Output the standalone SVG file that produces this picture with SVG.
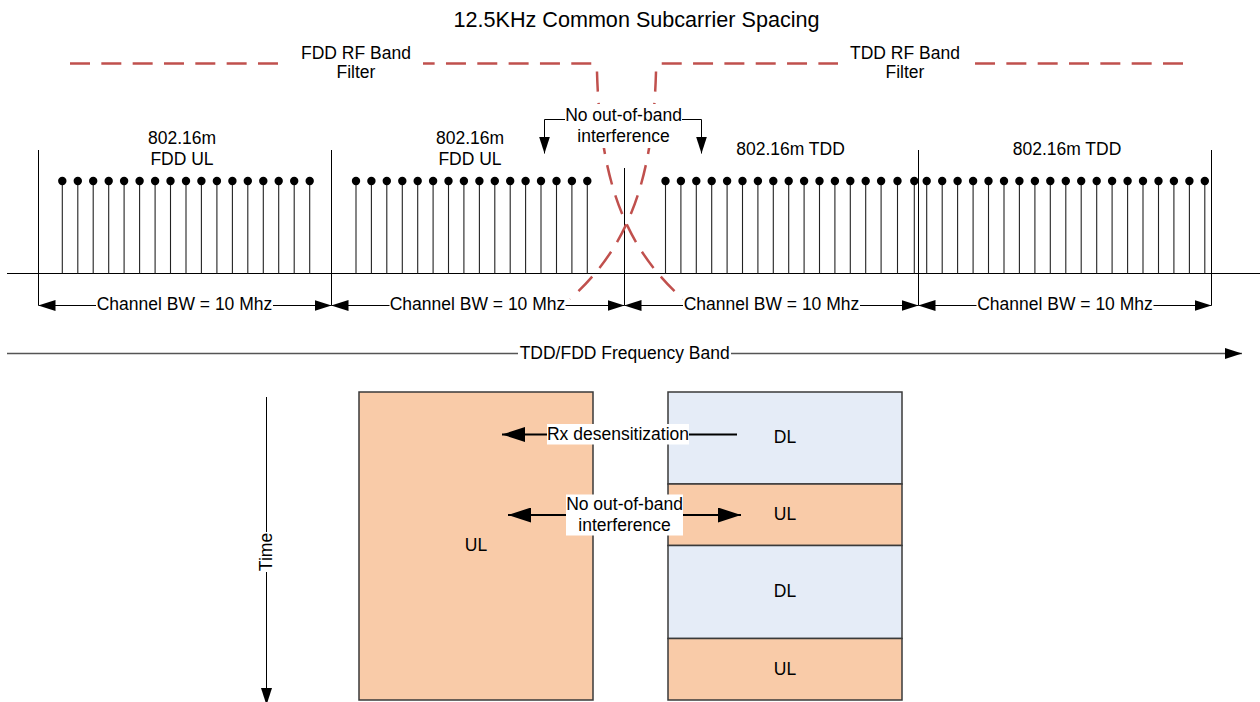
<svg xmlns="http://www.w3.org/2000/svg" width="1260" height="702" viewBox="0 0 1260 702">
<style>
text { font-family: "Liberation Sans", Arial, sans-serif; font-size: 17.5px; fill: #000; text-anchor: middle; }
.title { font-size: 21.6px; }
.ln { stroke: #000; stroke-width: 1; fill: none; }
.filter { stroke: #C0504D; stroke-width: 2.5; fill: none; stroke-dasharray: 20 11.33; }
.bg { fill: #fff; }
.ul { fill: #F9CBA8; stroke: #3a3a3a; stroke-width: 1.5; }
.dl { fill: #E5ECF7; stroke: #3a3a3a; stroke-width: 1.5; }
.thick { stroke: #000; stroke-width: 2; fill: none; }
.band { stroke: #555; stroke-width: 1.5; fill: none; }
</style>
<defs>
<marker id="ah" markerUnits="userSpaceOnUse" markerWidth="17" markerHeight="11" refX="17" refY="5.5" orient="auto-start-reverse" viewBox="0 0 17 11"><path d="M0,0 L17,5.5 L0,11 z" fill="#000"/></marker>
<marker id="ahL" markerUnits="userSpaceOnUse" markerWidth="23" markerHeight="15" refX="23" refY="7.5" orient="auto-start-reverse" viewBox="0 0 23 15"><path d="M0,0 L23,7.5 L0,15 z" fill="#000"/></marker>
<g id="sc"><line x1="0" y1="181" x2="0" y2="273.5" stroke="#222" stroke-width="1.1"/><circle cx="0" cy="181" r="4.2" fill="#000"/></g>
</defs>

<g id="title"><text class="title" x="636.5" y="27">12.5KHz Common Subcarrier Spacing</text></g>

<g id="axis">
<line class="ln" x1="7" y1="273.5" x2="1260" y2="273.5"/>
<line class="ln" x1="38.5" y1="150" x2="38.5" y2="305.5"/>
<line class="ln" x1="331.5" y1="150" x2="331.5" y2="305.5"/>
<line class="ln" x1="624.5" y1="168" x2="624.5" y2="305.5"/>
<line class="ln" x1="918.5" y1="150" x2="918.5" y2="305.5"/>
<line class="ln" x1="1211.5" y1="150" x2="1211.5" y2="305.5"/>
</g>

<g id="ch1-subcarriers">
<use href="#sc" x="62.3"/><use href="#sc" x="77.8"/><use href="#sc" x="93.2"/><use href="#sc" x="108.7"/><use href="#sc" x="124.1"/><use href="#sc" x="139.6"/><use href="#sc" x="155.1"/><use href="#sc" x="170.5"/><use href="#sc" x="186"/><use href="#sc" x="201.4"/><use href="#sc" x="216.9"/><use href="#sc" x="232.4"/><use href="#sc" x="247.8"/><use href="#sc" x="263.3"/><use href="#sc" x="278.7"/><use href="#sc" x="294.2"/><use href="#sc" x="309.7"/>
</g>
<g id="ch2-subcarriers">
<use href="#sc" x="356"/><use href="#sc" x="371.4"/><use href="#sc" x="386.8"/><use href="#sc" x="402.3"/><use href="#sc" x="417.7"/><use href="#sc" x="433.1"/><use href="#sc" x="448.5"/><use href="#sc" x="463.9"/><use href="#sc" x="479.4"/><use href="#sc" x="494.8"/><use href="#sc" x="510.2"/><use href="#sc" x="525.6"/><use href="#sc" x="541"/><use href="#sc" x="556.5"/><use href="#sc" x="571.9"/><use href="#sc" x="587.3"/>
</g>
<g id="ch3-subcarriers">
<use href="#sc" x="665.5"/><use href="#sc" x="680.9"/><use href="#sc" x="696.3"/><use href="#sc" x="711.7"/><use href="#sc" x="727.1"/><use href="#sc" x="742.5"/><use href="#sc" x="757.9"/><use href="#sc" x="773.3"/><use href="#sc" x="788.7"/><use href="#sc" x="804.1"/><use href="#sc" x="819.5"/><use href="#sc" x="834.9"/><use href="#sc" x="850.3"/><use href="#sc" x="865.7"/><use href="#sc" x="881.1"/><use href="#sc" x="897.5"/><use href="#sc" x="914.3"/>
</g>
<g id="ch4-subcarriers">
<use href="#sc" x="926.7"/><use href="#sc" x="942.2"/><use href="#sc" x="957.6"/><use href="#sc" x="973.1"/><use href="#sc" x="988.5"/><use href="#sc" x="1004"/><use href="#sc" x="1019.4"/><use href="#sc" x="1034.9"/><use href="#sc" x="1050.3"/><use href="#sc" x="1065.8"/><use href="#sc" x="1081.2"/><use href="#sc" x="1096.7"/><use href="#sc" x="1112.1"/><use href="#sc" x="1127.6"/><use href="#sc" x="1143"/><use href="#sc" x="1158.5"/><use href="#sc" x="1173.9"/><use href="#sc" x="1189.4"/><use href="#sc" x="1204.8"/>
</g>

<g id="fdd-ul-block"><rect class="ul" x="359" y="392" width="234" height="308"/><text x="476" y="551">UL</text></g>
<g id="tdd-stack">
<rect class="dl" x="668" y="392" width="234" height="92"/>
<rect class="ul" x="668" y="484" width="234" height="61.5"/>
<rect class="dl" x="668" y="545.5" width="234" height="93"/>
<rect class="ul" x="668" y="638.5" width="234" height="61.5"/>
<text x="785" y="443">DL</text>
<text x="785" y="520">UL</text>
<text x="785" y="597">DL</text>
<text x="785" y="674.5">UL</text>
</g>

<g id="filters">
<path class="filter" d="M70,63.5 H592 Q597,63.5 597,72 C600,175 622,245 683,299"/>
<path class="filter" d="M1183,63.5 H661 Q656,63.5 656,72 C653,175 631,245 570,299"/>
</g>

<g id="connectors">
<line class="ln" x1="38.5" y1="305.5" x2="331.5" y2="305.5" marker-start="url(#ah)" marker-end="url(#ah)"/>
<line class="ln" x1="331.5" y1="305.5" x2="624.5" y2="305.5" marker-start="url(#ah)" marker-end="url(#ah)"/>
<line class="ln" x1="624.5" y1="305.5" x2="918.5" y2="305.5" marker-start="url(#ah)" marker-end="url(#ah)"/>
<line class="ln" x1="918.5" y1="305.5" x2="1211.5" y2="305.5" marker-start="url(#ah)" marker-end="url(#ah)"/>
<line class="band" x1="7" y1="353.5" x2="1242" y2="353.5" marker-end="url(#ah)"/>
<path class="ln" d="M565,119.5 H544.5 V153.5" marker-end="url(#ah)"/>
<path class="ln" d="M682,119.5 H701.5 V153.5" marker-end="url(#ah)"/>
<line class="ln" x1="266.5" y1="397" x2="266.5" y2="705" marker-end="url(#ah)"/>
<line class="thick" x1="737" y1="434.5" x2="502" y2="434.5" marker-end="url(#ahL)"/>
<line class="thick" x1="508" y1="515" x2="741" y2="515" marker-start="url(#ahL)" marker-end="url(#ahL)"/>
</g>

<g id="fdd-filter-label"><rect class="bg" x="288" y="42" width="135" height="42"/><text x="356" y="59">FDD RF Band</text><text x="356" y="78">Filter</text></g>
<g id="tdd-filter-label"><rect class="bg" x="838" y="42" width="134" height="42"/><text x="905" y="59">TDD RF Band</text><text x="905" y="78">Filter</text></g>
<g id="oob-label-top"><rect class="bg" x="565" y="104" width="117" height="44"/><text x="623.5" y="120.5">No out-of-band</text><text x="623.5" y="141.5">interference</text></g>

<g id="ch1-label"><text x="182" y="144">802.16m</text><text x="182" y="165">FDD UL</text></g>
<g id="ch2-label"><text x="470" y="144">802.16m</text><text x="470" y="165">FDD UL</text></g>
<g id="ch3-label"><text x="790.5" y="155">802.16m TDD</text></g>
<g id="ch4-label"><text x="1067" y="155">802.16m TDD</text></g>

<g id="ch1-bw"><rect class="bg" x="96" y="296" width="177" height="19"/><text x="184.5" y="310">Channel BW = 10 Mhz</text></g>
<g id="ch2-bw"><rect class="bg" x="389.5" y="296" width="176" height="19"/><text x="477.5" y="310">Channel BW = 10 Mhz</text></g>
<g id="ch3-bw"><rect class="bg" x="683" y="296" width="177" height="19"/><text x="771.5" y="310">Channel BW = 10 Mhz</text></g>
<g id="ch4-bw"><rect class="bg" x="976.5" y="296" width="177" height="19"/><text x="1065" y="310">Channel BW = 10 Mhz</text></g>

<g id="band-label"><rect class="bg" x="518" y="343" width="213" height="21"/><text x="624.7" y="359">TDD/FDD Frequency Band</text></g>

<g id="time-label"><rect class="bg" x="257" y="532" width="19" height="40"/><text transform="translate(271.7,552) rotate(-90)" x="0" y="0">Time</text></g>
<g id="rx-label"><rect class="bg" x="547" y="424" width="142" height="20.5"/><text x="618" y="440">Rx desensitization</text></g>
<g id="oob-label-bottom"><rect class="bg" x="566" y="494.5" width="117" height="41"/><text x="624.5" y="510">No out-of-band</text><text x="624.5" y="531">interference</text></g>
</svg>
